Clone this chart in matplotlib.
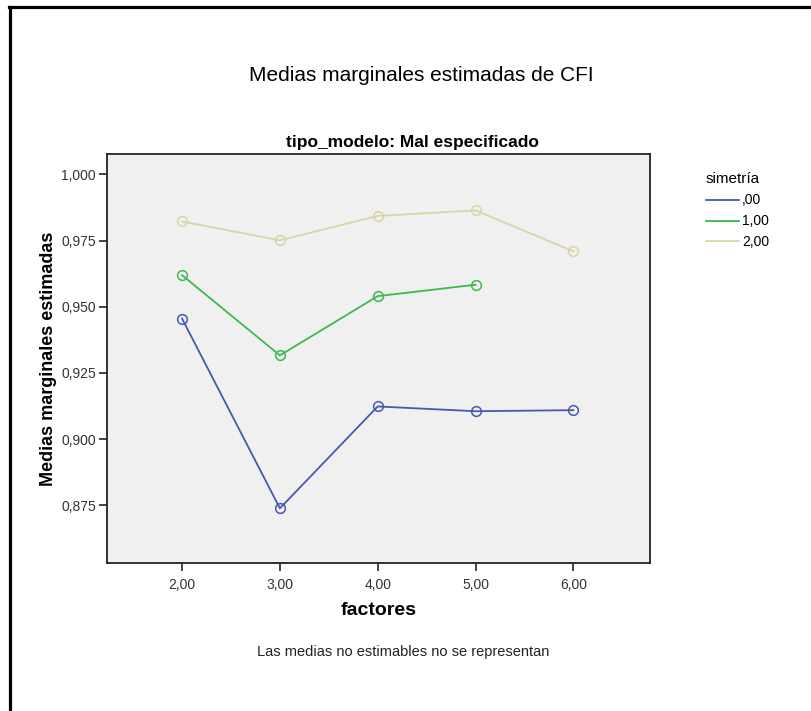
import numpy as np
import matplotlib
matplotlib.use("Agg")
import matplotlib.pyplot as plt
from matplotlib.lines import Line2D
from matplotlib.ticker import FuncFormatter

plt.rcParams['font.family'] = ['Liberation Sans', 'DejaVu Sans']

# Medias marginales estimadas de CFI por número de factores
factores = [2, 3, 4, 5, 6]
sim_00 = [0.9455, 0.8738, 0.9123, 0.9105, 0.9109]
sim_10 = [0.9619, 0.9316, 0.9540, 0.9583, np.nan]
sim_20 = [0.9822, 0.9751, 0.9843, 0.9864, 0.9709]
etiquetas = [',00', '1,00', '2,00']
colores = ['#4659ad', '#3cb94e', '#d9d5a3']

fig = plt.figure(figsize=(8.11, 7.11), dpi=100)
ax = fig.add_axes([0.132, 0.208, 0.670, 0.575])
ax.set_facecolor('#f0f0f0')

for serie, lab, col in zip([sim_00, sim_10, sim_20], etiquetas, colores):
    ax.plot(factores, serie, '-o', color=col, lw=1.3, ms=7,
            mfc='none', mec=col, mew=1.1, label=lab)

ax.set_xlim(1.233, 6.788)
ax.set_ylim(0.8531, 1.0076)
ax.set_xticks(factores)
ax.set_yticks([0.875, 0.900, 0.925, 0.950, 0.975, 1.000])
ax.xaxis.set_major_formatter(FuncFormatter(lambda v, p: f"{v:.2f}".replace('.', ',')))
ax.yaxis.set_major_formatter(FuncFormatter(lambda v, p: f"{v:.3f}".replace('.', ',')))
ax.tick_params(axis='both', direction='out', length=6, width=1.2, labelsize=10,
               colors='#222222', labelcolor='#333333')
ax.tick_params(axis='x', pad=5)
ax.tick_params(axis='y', pad=2)
for s in ax.spines.values():
    s.set_linewidth(1.3)
    s.set_color('#222222')

ax.set_xlabel('factores', fontsize=14, fontweight='bold', labelpad=7)
ax.set_ylabel('Medias marginales estimadas', fontsize=13, fontweight='bold', labelpad=3)

fig.text(0.519, 0.894, 'Medias marginales estimadas de CFI', ha='center', va='center', fontsize=15)
fig.text(0.509, 0.800, 'tipo_modelo: Mal especificado', ha='center', va='center',
         fontsize=12.5, fontweight='bold')
fig.text(0.497, 0.083, 'Las medias no estimables no se representan', ha='center',
         va='center', fontsize=10.5, color='#222222')

leg = fig.legend(loc='upper left', bbox_to_anchor=(0.855, 0.775), title='simetría',
                 frameon=False, fontsize=10, title_fontsize=11, handlelength=2.4,
                 handletextpad=0.2, labelspacing=0.5, markerscale=0, alignment='left')
for h in leg.get_lines():
    h.set_marker('')

# marco exterior (solo borde superior e izquierdo)
fig.add_artist(Line2D([0.011, 1.0], [0.990, 0.990], color='black', lw=2.3))
fig.add_artist(Line2D([0.012, 0.012], [0.0, 0.990], color='black', lw=2.3))

fig.savefig('out.png', dpi=100, facecolor='white')
